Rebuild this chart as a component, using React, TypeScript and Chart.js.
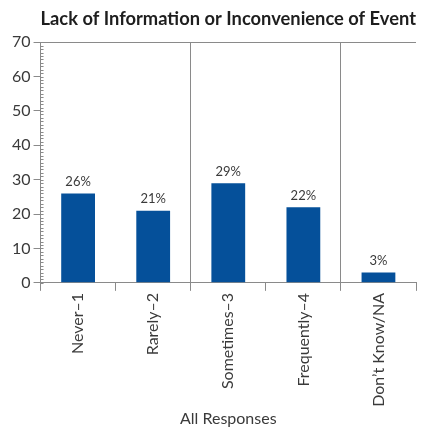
import React, { useEffect, useRef } from "react";
import { Chart, registerables } from "chart.js";

Chart.register(...registerables);

const categories = ["Never\u20131", "Rarely\u20132", "Sometimes\u20133", "Frequently\u20134", "Don\u2019t Know/NA"];
const values = [26, 21, 29, 22, 3];
const separatorLines = [2, 4, 5];
const yMin = 0;
const yMax = 70;
const yStep = 10;
const minorStep = 1;

const FONT = "Lato, 'Open Sans', sans-serif";
const GRAY = "#8a8a8a";
const TEXT = "#3a3a3a";
const BLUE = "#05509a";

const valueLabels = {
  id: "valueLabels",
  afterDatasetsDraw(chart: any) {
    const ctx = chart.ctx;
    const meta = chart.getDatasetMeta(0);
    ctx.save();
    ctx.font = `13px ${FONT}`;
    ctx.fillStyle = TEXT;
    ctx.textAlign = "center";
    ctx.textBaseline = "bottom";
    meta.data.forEach((bar: any, i: number) => {
      ctx.fillText(`${values[i]}%`, bar.x, bar.y - 5);
    });
    ctx.restore();
  },
};

const minorTicks = {
  id: "minorTicks",
  afterDraw(chart: any) {
    const y = chart.scales.y;
    const ctx = chart.ctx;
    ctx.save();
    ctx.strokeStyle = GRAY;
    ctx.lineWidth = 1;
    ctx.beginPath();
    for (let v = yMin; v <= yMax; v += minorStep) {
      const py = Math.round(y.getPixelForValue(v)) + 0.5;
      ctx.moveTo(y.right, py);
      ctx.lineTo(y.right + 3, py);
    }
    ctx.stroke();
    ctx.restore();
  },
};

export default function App() {
  const ref = useRef<HTMLCanvasElement>(null);
  useEffect(() => {
    if (!ref.current) return;
    const chart = new Chart(ref.current, {
      type: "bar",
      data: {
        labels: categories,
        datasets: [
          {
            data: values,
            backgroundColor: BLUE,
            barPercentage: 0.45,
            categoryPercentage: 1,
          },
        ],
      },
      plugins: [valueLabels, minorTicks],
      options: {
        responsive: false,
        animation: false,
        layout: { padding: { left: 9, right: 8, top: 8, bottom: 0 } },
        plugins: {
          legend: { display: false },
          tooltip: { enabled: false },
          title: {
            display: true,
            text: "Lack of Information or Inconvenience of Event",
            fullSize: false,
            color: "#1e1e1e",
            font: { family: FONT, size: 18.5, weight: "bold" },
            padding: { top: 0, bottom: 12 },
          },
        },
        scales: {
          x: {
            offset: true,
            grid: {
              offset: true,
              color: (c: any) => (separatorLines.includes(c.index) ? GRAY : "rgba(0,0,0,0)"),
              tickColor: GRAY,
              tickLength: 8,
              lineWidth: 1,
            },
            border: { color: GRAY },
            ticks: {
              color: TEXT,
              font: { family: FONT, size: 16 },
              minRotation: 90,
              maxRotation: 90,
              padding: 2,
            },
            title: {
              display: true,
              text: "All Responses",
              color: TEXT,
              font: { family: FONT, size: 16 },
              padding: { top: 0, bottom: 0 },
            },
          },
          y: {
            min: yMin,
            max: yMax,
            grid: {
              color: (c: any) => (c.tick && c.tick.value === yMax ? GRAY : "rgba(0,0,0,0)"),
              tickColor: GRAY,
              tickLength: 7,
            },
            border: { color: GRAY },
            ticks: {
              stepSize: yStep,
              color: TEXT,
              font: { family: FONT, size: 16 },
              padding: 3,
            },
          },
        },
      },
    });
    return () => chart.destroy();
  }, []);
  return (
    <div style={{ position: "fixed", left: 0, top: 0, width: 424, height: 428, background: "#fff" }}>
      <canvas ref={ref} width={424} height={428} />
    </div>
  );
}
